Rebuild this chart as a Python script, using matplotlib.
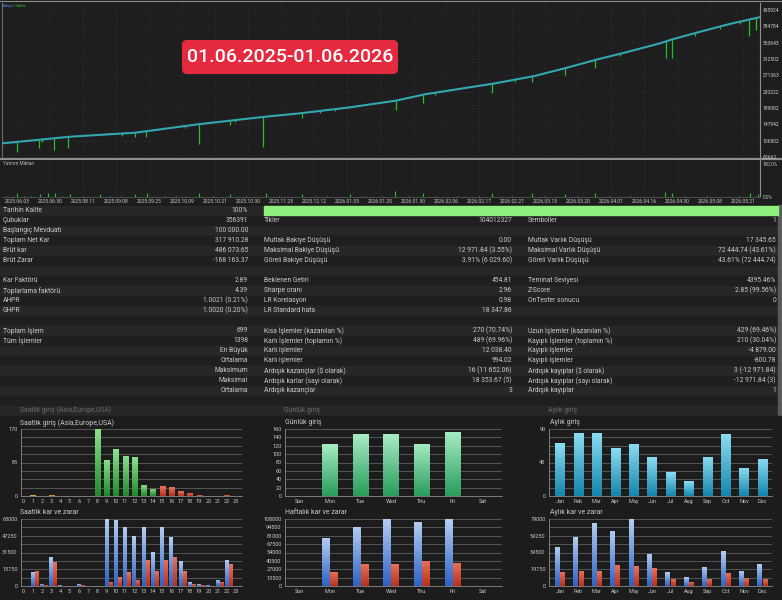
import numpy as np
import matplotlib
matplotlib.use("Agg")
import matplotlib.pyplot as plt
from matplotlib.patches import Rectangle, FancyBboxPatch
from matplotlib.colors import LinearSegmentedColormap

plt.rcParams['font.family'] = ['Roboto', 'DejaVu Sans']

W, H = 782, 600

# ---------------- data: balance / equity ----------------
n_trades = 699
bal_trade = [0, 63, 123, 183, 243, 275, 321, 363, 390, 455, 491, 519, 547, 574, 607, 618, 644, 671, 699]
bal_value = [100000, 116800, 126900, 148800, 167200, 175700, 190800, 207500, 223600, 251300,
             269700, 289100, 310000, 328400, 352100, 362000, 381300, 400700, 417910]
dip_trade = [14, 34, 37, 48, 61, 111, 123, 133, 169, 182, 210, 215, 241, 277, 293, 307, 363, 388,
             399, 452, 473, 489, 519, 547, 570, 612, 618, 639, 662, 681, 689, 695]
dip_value = [79000, 87600, 103000, 83300, 87600, 119000, 116800, 116800, 138000, 98400, 146300,
             153000, 90100, 163100, 176000, 181000, 184000, 200900, 221000, 227600, 254000, 255300,
             272200, 289100, 319000, 314300, 314300, 371000, 388000, 400000, 370400, 385500]
y_tick_values = [65662, 106802, 147942, 189082, 230222, 271363, 312502, 353643, 394784, 435924]

inv_trade = [5, 14, 20, 27, 35, 42, 49, 55, 63, 75, 90, 100, 110, 123, 134, 150, 160, 170, 182, 195,
             210, 225, 243, 255, 277, 290, 300, 321, 335, 350, 362, 375, 388, 400, 420, 440, 452,
             470, 489, 500, 519, 530, 547, 560, 580, 600, 611, 618, 630, 650, 670, 680, 690, 697]
inv_pct = [3, 12.6, 4, 3, 9, 10.8, 12.6, 3, 9, 4, 8, 3, 4, 8, 12.6, 3, 4, 3, 12.6, 3,
           8, 3, 12.6, 4, 8, 3, 4, 8, 3, 4, 18, 3, 10.8, 4, 3, 4, 10.8,
           3, 10.8, 4, 8, 3, 10.8, 3, 4, 3, 15, 12.6, 4, 3, 4, 3, 13.5, 8]

dates = ['2025.06.03', '2025.06.30', '2025.08.11', '2025.09.08', '2025.09.25', '2025.10.09',
         '2025.10.21', '2025.10.30', '2025.11.25', '2025.12.12', '2026.01.05', '2026.01.20',
         '2026.01.30', '2026.02.06', '2026.02.17', '2026.02.27', '2026.03.13', '2026.03.20',
         '2026.04.01', '2026.04.16', '2026.04.30', '2026.05.08', '2026.05.21']

period_label = '01.06.2025-01.06.2026'

# ---------------- data: report table ----------------
col1_labels = ['Tarihin Kalite', 'Çubuklar', 'Başlangıç Mevduatı', 'Toplam Net Kar', 'Brüt kar',
               'Brüt Zarar', '', 'Kar Faktörü', 'Toplarlama faktörü', 'AHPR', 'GHPR', '',
               'Toplam İşlem', 'Tüm İşlemler', '', '', '', '', '']
col1_values = ['100%', '356391', '100 000.00', '317 910.28', '486 073.65', '-168 163.37', '',
               '2.89', '4.39', '1.0021 (0.21%)', '1.0020 (0.20%)', '', '699', '1398',
               'En Büyük', 'Ortalama', 'Maksimum', 'Maksimal', 'Ortalama']
col2_labels = ['', 'Tikler', '', 'Mutlak Bakiye Düşüşü', 'Maksimal Bakiye Düşüşü',
               'Göreli Bakiye Düşüşü', '', 'Beklenen Getiri', 'Sharpe oranı', 'LR Korelasyon',
               'LR Standard hata', '', 'Kısa İşlemler (kazanılan %)', 'Karlı İşlemler (toplamın %)',
               'Karlı işlemler', 'Karlı işlemler', 'Ardışık kazançlar ($ olarak)',
               'Ardışık karlar (sayı olarak)', 'Ardışık kazançlar']
col2_values = ['', '104012327', '', '0.00', '12 971.84 (3.55%)', '3.91% (6 029.60)', '',
               '454.81', '2.96', '0.98', '18 347.86', '', '270 (70.74%)', '489 (69.96%)',
               '12 038.40', '994.02', '16 (11 652.06)', '18 353.67 (5)', '3']
col3_labels = ['', 'Semboller', '', 'Mutlak Varlık Düşüşü', 'Maksimal Varlık Düşüşü',
               'Göreli Varlık Düşüşü', '', 'Teminat Seviyesi', 'Z-Score', 'OnTester sonucu', '', '',
               'Uzun İşlemler (kazanılan %)', 'Kayıplı İşlemler (toplamın %)', 'Kayıplı işlemler',
               'Kayıplı işlemler', 'Ardışık kayıplar ($ olarak)', 'Ardışık kayıplar (sayı olarak)',
               'Ardışık kayıplar']
col3_values = ['', '1', '', '17 345.65', '72 444.74 (43.61%)', '43.61% (72 444.74)', '',
               '4395.46%', '2.85 (99.56%)', '0', '', '', '429 (69.46%)', '210 (30.04%)',
               '-4 879.00', '-800.78', '3 (-12 971.84)', '-12 971.84 (3)', '1']

# ---------------- data: distribution charts ----------------
hours = list(range(24))
hour_entries = [0, 2, 1, 3, 1, 0, 0, 0, 170, 92, 118, 102, 98, 29, 18, 25, 22, 12, 8, 2, 0, 1, 2, 0]
hour_profit = [0, 13500, 1900, 26800, 900, 300, 1600, 0, 0, 63000, 62500, 55800, 47300, 55100,
               32100, 55800, 45700, 23900, 3500, 1600, 600, 5700, 24600, 0]
hour_loss = [0, 14200, 1300, 22400, 0, 0, 600, 0, 0, 4100, 8200, 12900, 6000, 24900, 14500,
             24900, 27400, 13900, 1600, 900, 300, 4100, 20500, 0]
days = ['Sun', 'Mon', 'Tue', 'Wed', 'Thu', 'Fri', 'Sat']
day_entries = [0, 124, 148, 148, 125, 154, 0]
day_profit = [0, 77200, 95600, 107500, 103100, 108000, 0]
day_loss = [0, 23200, 36200, 35600, 41000, 37800, 0]
months = ['Jan', 'Feb', 'Mar', 'Apr', 'May', 'Jun', 'Jul', 'Aug', 'Sep', 'Oct', 'Nov', 'Dec']
month_entries = [71, 85, 85, 64, 70, 52, 32, 20, 53, 83, 38, 50]
month_profit = [46200, 58100, 74300, 65200, 79000, 37900, 16200, 10300, 22500, 41100, 18200, 25700]
month_loss = [16600, 18200, 17400, 24500, 23300, 21300, 8300, 5100, 8300, 15800, 9500, 8700]

hour_ticks = [0, 85, 170]
hpl_ticks = [0, 15750, 31500, 47250, 63000]
day_ticks = [0, 20, 40, 60, 80, 100, 120, 140, 160]
dpl_ticks = [0, 13500, 27000, 40500, 54000, 67500, 81000, 94500, 108000]
month_ticks = [0, 45, 90]
mpl_ticks = [0, 19750, 39500, 59250, 79000]

# ---------------- figure ----------------
TXT = '#c9c9c9'
fig = plt.figure(figsize=(7.82, 6.0), dpi=100)
fig.patch.set_facecolor('#1b1b1b')


def add_ax(x0, y0, x1, y1):
    return fig.add_axes([x0 / W, 1 - y1 / H, (x1 - x0) / W, (y1 - y0) / H])


bg = add_ax(0, 0, W, H)
bg.set_xlim(0, W)
bg.set_ylim(H, 0)
bg.axis('off')
bg.set_zorder(-5)

# chart area background
bg.add_patch(Rectangle((0, 0), W, 203, color='#1e1e1e', zorder=0))
# table rows
row_y = 210.7 + 10 * np.arange(21)
for i, yc in enumerate(row_y):
    bg.add_patch(Rectangle((0, yc - 5), 778, 10, color='#272727' if i % 2 == 0 else '#1f1f1f', zorder=0))
bg.add_patch(Rectangle((778, 205), 4, 210, color='#5a5a5a', zorder=0))
bg.add_patch(Rectangle((264, 206), 514, 9.4, color='#8ef07c', zorder=1))

fs = 4.9
for i in range(len(col1_labels)):
    yc = row_y[i]
    bg.text(3, yc, col1_labels[i], color=TXT, fontsize=fs, va='center', ha='left')
    bg.text(248, yc, col1_values[i], color=TXT, fontsize=fs, va='center', ha='right')
    bg.text(264, yc, col2_labels[i], color=TXT, fontsize=fs, va='center', ha='left')
    bg.text(512, yc, col2_values[i], color=TXT, fontsize=fs, va='center', ha='right')
    bg.text(528, yc, col3_labels[i], color=TXT, fontsize=fs, va='center', ha='left')
    bg.text(776, yc, col3_values[i], color=TXT, fontsize=fs, va='center', ha='right')

# ghost header row and chart titles
ghost = '#6c6c6c'
bg.text(20, 410.5, 'Saatlik giriş (Asia,Europe,USA)', color=ghost, fontsize=fs, va='center')
bg.text(284, 410.5, 'Günlük giriş', color=ghost, fontsize=fs, va='center')
bg.text(548, 410.5, 'Aylık giriş', color=ghost, fontsize=fs, va='center')
bg.add_patch(Rectangle((0, 416), W, 184, color='#1c1c1c', zorder=0))
titles = [(20, 423, 'Saatlik giriş (Asia,Europe,USA)'), (20, 512, 'Saatlik kar ve zarar'),
          (285, 423, 'Günlük giriş'), (285, 513, 'Haftalık kar ve zarar'),
          (550, 423, 'Aylık giriş'), (550, 513, 'Aylık kar ve zarar')]
for x, y, t in titles:
    bg.text(x, y, t, color=TXT, fontsize=5.0, va='center', ha='left')
bg.plot([0, W], [158.5, 158.5], color='#8e8e8e', lw=1.6, zorder=2)
bg.plot([0, W], [0.8, 0.8], color='#8e8e8e', lw=0.8, zorder=2)

# ---------------- top balance chart ----------------
ax = add_ax(2, 3, 760, 157)
ax.set_facecolor('#1e1e1e')
ylo = y_tick_values[0]
step = (y_tick_values[-1] - y_tick_values[0]) / 147.0
ax.set_ylim(ylo, y_tick_values[-1] + 7 * step)
ax.set_xlim(0, n_trades)
date_pos = (15 + 33 * np.arange(len(dates))) / 758 * n_trades
for p in date_pos:
    ax.axvline(p, color='#343434', lw=0.5, ls=':', zorder=0)
for v in y_tick_values:
    ax.axhline(v, color='#343434', lw=0.5, ls=':', zorder=0)
eq_top = np.interp(dip_trade, bal_trade, bal_value)
ax.vlines(dip_trade, dip_value, eq_top, color='#22c22a', lw=0.9, zorder=3)
ax.plot(bal_trade, bal_value, color='#3a8fe0', lw=1.5, zorder=4)
ax.plot(bal_trade, bal_value, color='#27c46a', lw=0.8, alpha=0.75, zorder=5)
ax.yaxis.tick_right()
ax.set_yticks(y_tick_values)
ax.set_yticklabels([str(v) for v in y_tick_values])
ax.set_xticks([])
ax.tick_params(axis='y', colors=TXT, labelsize=3.6, length=0, pad=2)
for s in ['top', 'bottom']:
    ax.spines[s].set_visible(False)
ax.spines['left'].set_color('#6a6a6a')
ax.spines['right'].set_color('#8e8e8e')

# ---------------- investment sub-pane ----------------
ax2 = add_ax(2, 160, 760, 197)
ax2.set_facecolor('#1e1e1e')
ax2.set_xlim(0, n_trades)
ax2.set_ylim(0, 100 * 37 / 33)
for p in date_pos:
    ax2.axvline(p, color='#343434', lw=0.5, ls=':', zorder=0)
ax2.vlines(inv_trade, 0, inv_pct, color='#22c22a', lw=0.8, zorder=3)
ax2.set_xticks(date_pos)
ax2.set_xticklabels(dates)
ax2.yaxis.tick_right()
ax2.set_yticks([0, 100])
ax2.set_yticklabels(['0.0%', '100.0%'])
ax2.tick_params(axis='x', colors=TXT, labelsize=3.6, length=0, pad=1.5)
ax2.tick_params(axis='y', colors=TXT, labelsize=3.4, length=0, pad=2)
for s in ['top', 'left']:
    ax2.spines[s].set_visible(False)
ax2.spines['bottom'].set_color('#4a4a4a')
ax2.spines['right'].set_color('#8e8e8e')


# ---------------- bottom charts ----------------
def grad_bars(a, x, h, width, top, bottom, z=3):
    cmap = LinearSegmentedColormap.from_list('g', [bottom, top])
    grad = np.linspace(0, 1, 64).reshape(-1, 1)
    bars = a.bar(x, h, width, color='none', edgecolor='none', zorder=z)
    for b in bars:
        if b.get_height() <= 0:
            continue
        x0, y0 = b.get_x(), b.get_y()
        im = a.imshow(grad, cmap=cmap, origin='lower', aspect='auto', interpolation='bilinear',
                      extent=[x0, x0 + b.get_width(), y0, y0 + b.get_height()], zorder=z)
        im.set_clip_path(b)
    return bars


def setup(a, xlim, ticks, xlabels):
    a.set_facecolor('#1c1c1c')
    a.set_xlim(*xlim)
    a.set_ylim(ticks[0], ticks[-1])
    for v in np.linspace(ticks[0], ticks[-1], 9):
        a.axhline(v, color='#5e5e5e', lw=0.6, zorder=1)
    a.set_yticks(ticks)
    a.set_yticklabels([str(t) for t in ticks])
    a.set_xticks(range(len(xlabels)))
    a.set_xticklabels(xlabels)
    a.tick_params(colors=TXT, labelsize=4, length=0, pad=2.5)
    for s in ['top', 'right']:
        a.spines[s].set_visible(False)
    a.spines['left'].set_color('#8a8a8a')
    a.spines['bottom'].set_color('#8a8a8a')
    a.spines['left'].set_linewidth(0.6)
    a.spines['bottom'].set_linewidth(0.6)


BLUE_T, BLUE_B = '#b4cdf2', '#2f62c4'
RED_T, RED_B = '#e8745a', '#b8301e'

# hourly entries
a1 = add_ax(21, 429, 242, 496)
hx = np.array(hours)
he = np.array(hour_entries)
asia = hx < 8
eu = (hx >= 8) & (hx < 15)
us = hx >= 15
grad_bars(a1, hx[asia], he[asia], 0.55, '#f0c860', '#c08a20')
grad_bars(a1, hx[eu], he[eu], 0.55, '#8ee08e', '#1f8a2c')
grad_bars(a1, hx[us], he[us], 0.55, '#e8745a', '#b8301e')
setup(a1, (-0.25, 23.64), hour_ticks, [str(h) for h in hours])

# hourly profit / loss
a2 = add_ax(21, 519, 242, 586)
grad_bars(a2, hx, hour_profit, 0.43, BLUE_T, BLUE_B)
grad_bars(a2, hx + 0.43, hour_loss, 0.43, RED_T, RED_B)
setup(a2, (-0.25, 23.64), hpl_ticks, [str(h) for h in hours])

# daily entries
dx = np.arange(len(days))
a3 = add_ax(285, 429, 502, 496)
grad_bars(a3, dx, day_entries, 0.52, '#a6ecc4', '#2a9c5c')
setup(a3, (-0.46, 6.61), day_ticks, days)

# weekly profit / loss
a4 = add_ax(285, 519, 502, 586)
grad_bars(a4, dx - 0.13, day_profit, 0.26, BLUE_T, BLUE_B)
grad_bars(a4, dx + 0.13, day_loss, 0.26, RED_T, RED_B)
setup(a4, (-0.46, 6.61), dpl_ticks, days)

# monthly entries
mx = np.arange(len(months))
a5 = add_ax(549, 429, 772, 496)
grad_bars(a5, mx, month_entries, 0.5, '#8cdcf2', '#1386ac')
setup(a5, (-0.6, 11.52), month_ticks, months)

# monthly profit / loss
a6 = add_ax(549, 519, 772, 586)
grad_bars(a6, mx - 0.14, month_profit, 0.27, BLUE_T, BLUE_B)
grad_bars(a6, mx + 0.14, month_loss, 0.27, RED_T, RED_B)
setup(a6, (-0.6, 11.52), mpl_ticks, months)

# ---------------- overlay: labels ----------------
ov = add_ax(0, 0, W, H)
ov.set_xlim(0, W)
ov.set_ylim(H, 0)
ov.axis('off')
ov.set_zorder(10)
ov.patch.set_alpha(0)
ov.text(2, 6, 'Bakiye', color='#4a90e2', fontsize=3.0, va='center')
ov.text(13.5, 6, '/', color='#bbbbbb', fontsize=3.0, va='center')
ov.text(16, 6, 'Varlık', color='#2ec02e', fontsize=3.0, va='center')
ov.text(3, 163.5, 'Yatırım Miktarı', color='#bbbbbb', fontsize=3.4, va='center')
ov.add_patch(FancyBboxPatch((182, 40), 216, 34, boxstyle='round,pad=0,rounding_size=5',
                            facecolor='#e52a3f', edgecolor='none'))
ov.text(290, 57.5, period_label, color='white', fontsize=14, va='center', ha='center',
        fontweight='medium', family=['Roboto', 'DejaVu Sans'])

fig.savefig('out.png', dpi=100, facecolor=fig.get_facecolor())
